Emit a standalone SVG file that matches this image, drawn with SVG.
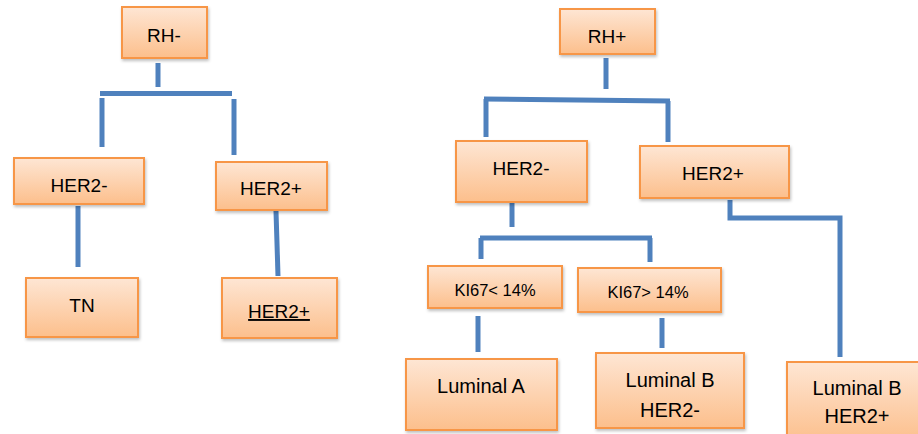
<svg xmlns="http://www.w3.org/2000/svg" width="918" height="434" viewBox="0 0 918 434">
<defs>
<linearGradient id="g" x1="0" y1="0" x2="0" y2="1">
<stop offset="0" stop-color="#FEE6D4"/>
<stop offset="1" stop-color="#FCBF8C"/>
</linearGradient>
<filter id="sh" x="-10%" y="-10%" width="130%" height="140%">
<feDropShadow dx="1" dy="2" stdDeviation="1.5" flood-color="#000" flood-opacity="0.25"/>
</filter>
<style>
.box{fill:url(#g);stroke:#F79646;stroke-width:2;filter:url(#sh)}
.t{font-family:"Liberation Sans",Arial,sans-serif;font-size:19px;fill:#000;text-anchor:middle}
.s{font-size:16.5px}
.l{font-size:20px}
.c{fill:none;stroke:#4F81BD;stroke-width:5}
</style>
</defs>
<g id="connectors">
<path class="c" d="M158 63V87"/>
<path class="c" d="M100 93.5H232"/>
<path class="c" d="M102 98V147"/>
<path class="c" d="M234 99V155"/>
<path class="c" d="M78 206V267"/>
<path class="c" d="M276 211L278 276"/>
<path class="c" d="M606 58V89"/>
<path class="c" d="M484 99L670 101"/>
<path class="c" d="M486 99V137"/>
<path class="c" d="M668 101V142"/>
<path class="c" d="M512 203V227"/>
<path class="c" d="M480 238H652"/>
<path class="c" d="M481 238V259"/>
<path class="c" d="M650 238V262"/>
<path class="c" d="M730 200V218H840V357"/>
<path class="c" d="M478 316V352"/>
<path class="c" d="M662 318V348"/>
</g>
<g id="rh-neg"><rect class="box" x="122" y="7" width="85" height="51"/><text class="t" x="164" y="42">RH-</text></g>
<g id="her2-neg-l"><rect class="box" x="14" y="158" width="130" height="46"/><text class="t" x="79" y="192">HER2-</text></g>
<g id="her2-pos-l"><rect class="box" x="216" y="162" width="111" height="48"/><text class="t" x="271" y="195">HER2+</text></g>
<g id="tn"><rect class="box" x="26" y="278" width="112" height="59"/><text class="t" x="82" y="312">TN</text></g>
<g id="her2-pos-u"><rect class="box" x="222" y="278" width="115" height="60"/><text class="t" x="279" y="318" text-decoration="underline">HER2+</text></g>
<g id="rh-pos"><rect class="box" x="560" y="9" width="95" height="45"/><text class="t" x="607" y="43">RH+</text></g>
<g id="her2-neg-r"><rect class="box" x="456" y="141" width="131" height="61"/><text class="t" x="521" y="175">HER2-</text></g>
<g id="her2-pos-r"><rect class="box" x="640" y="146" width="149" height="52"/><text class="t" x="713" y="180">HER2+</text></g>
<g id="ki67-lt"><rect class="box" x="428" y="266" width="134" height="42"/><text class="t s" x="495" y="296">KI67&lt; 14%</text></g>
<g id="ki67-gt"><rect class="box" x="578" y="268" width="143" height="44"/><text class="t s" x="648" y="298">KI67&gt; 14%</text></g>
<g id="lum-a"><rect class="box" x="406" y="359" width="151" height="71"/><text class="t l" x="481" y="393">Luminal A</text></g>
<g id="lum-b-neg"><rect class="box" x="596" y="353" width="148" height="75"/><text class="t l" x="670" y="387">Luminal B</text><text class="t l" x="670" y="417">HER2-</text></g>
<g id="lum-b-pos"><rect class="box" x="787" y="362" width="140" height="80"/><text class="t l" x="857" y="395">Luminal B</text><text class="t l" x="857" y="423">HER2+</text></g>
</svg>
